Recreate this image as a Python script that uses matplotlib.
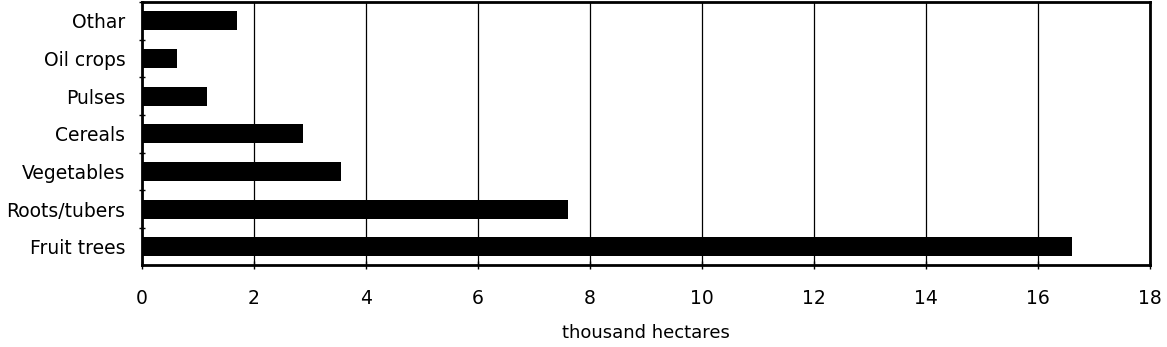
import matplotlib
matplotlib.use("Agg")
import matplotlib.pyplot as plt
import numpy as np

categories = ["Fruit trees", "Roots/tubers", "Vegetables", "Cereals", "Pulses", "Oil crops", "Othar"]
values = [16.6, 7.6, 3.55, 2.87, 1.16, 0.63, 1.7]
xticks = [0, 2, 4, 6, 8, 10, 12, 14, 16, 18]

plt.rcParams['font.family'] = ['DejaVu Sans']

fig = plt.figure(figsize=(11.67, 3.47), dpi=100)
ax = fig.add_axes([142/1167, (347-265)/347, (1150-142)/1167, (265-2)/347])

y = np.arange(len(categories))
ax.barh(y, values, height=0.5, color='black', zorder=3)
ax.set_xlim(0, 18)
ax.set_ylim(-0.48, len(categories) - 1 + 0.48)
ax.set_xticks(xticks)
ax.set_xticklabels([str(t) for t in xticks], fontsize=13.5)
ax.set_yticks(y)
ax.set_yticklabels(categories, fontsize=13.5)
ax.tick_params(axis='y', which='major', length=0, pad=12)
ax.set_yticks(np.arange(len(categories)) + 0.5, minor=True)
ax.tick_params(axis='y', which='minor', length=4, direction='inout', width=1)
ax.tick_params(axis='x', which='major', length=6, direction='inout', width=1, pad=14)
ax.grid(axis='x', color='black', linewidth=0.9, zorder=1)
for s in ax.spines.values():
    s.set_linewidth(2)
    s.set_zorder(4)
ax.set_xlabel("thousand hectares", fontsize=13, labelpad=12)

fig.savefig("out.png", dpi=100)
